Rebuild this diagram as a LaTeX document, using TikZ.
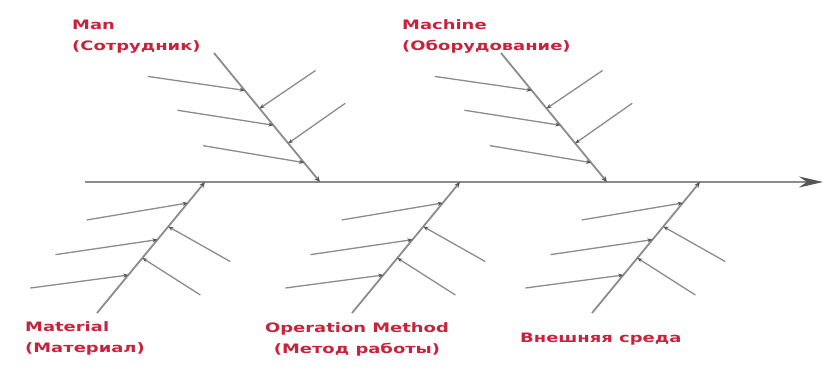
\documentclass[tikz,border=0pt]{standalone}
\usepackage{fontspec}
\newfontfamily\lblfont[FakeStretch=1.38]{DejaVu Sans}
\usetikzlibrary{arrows.meta,calc}
\definecolor{bonegray}{RGB}{140,140,140}
\definecolor{tipgray}{RGB}{85,85,85}
\definecolor{lblred}{RGB}{200,35,60}
\tikzset{
  spine/.style={draw=bonegray, line width=2.2pt, -{Stealth[length=24pt,width=11pt,color=tipgray]}},
  bone/.style={draw=bonegray, line width=1.8pt, -{Stealth[length=6pt,width=5pt,color=tipgray]}},
  twig/.style={draw=bonegray, line width=1.3pt, -{Stealth[length=5pt,width=4pt,color=tipgray]}},
  lbl/.style={text=lblred, font=\lblfont\bfseries\fontsize{13}{21}\selectfont, inner sep=0pt},
}
\begin{document}
\begin{tikzpicture}[x=1pt,y=-1pt]
    \useasboundingbox[fill=white] (0,0) rectangle (827,368);
    % main line
    \coordinate (spine-tail) at (85,182);
    \coordinate (spine-head) at (823,182);
    \draw[spine] (spine-tail) -- (spine-head);
    % upper bones
    \foreach \dx/\nm in {0/man,287/mach}{
    \begin{scope}[shift={(\dx,0)}]
        \coordinate (\nm-tail) at (214,53);
        \coordinate (\nm-head) at (320,182);
        \draw[bone] (\nm-tail) -- (\nm-head);
        \foreach \t/\ox/\oy [count=\i] in {.29/-97/-14,.56/-96/-15,.85/-101/-17}{
            \coordinate (\nm-l\i) at ($(\nm-tail)!\t!(\nm-head)$);
            \draw[twig] ($(\nm-l\i)+(\ox,\oy)$) -- (\nm-l\i);
        }
        \foreach \t/\ox/\oy [count=\i] in {.43/56/-38,.70/57/-40}{
            \coordinate (\nm-r\i) at ($(\nm-tail)!\t!(\nm-head)$);
            \draw[twig] ($(\nm-r\i)+(\ox,\oy)$) -- (\nm-r\i);
        }
    \end{scope}
    }
    % lower bones
    \foreach \dx/\nm in {0/mat,255/oper,495/env}{
    \begin{scope}[shift={(\dx,0)}]
        \coordinate (\nm-tail) at (97,313);
        \coordinate (\nm-head) at (205,182);
        \draw[bone] (\nm-tail) -- (\nm-head);
        \foreach \t/\ox/\oy [count=\i] in {.84/-101/17,.56/-102/15,.29/-98/13}{
            \coordinate (\nm-l\i) at ($(\nm-tail)!\t!(\nm-head)$);
            \draw[twig] ($(\nm-l\i)+(\ox,\oy)$) -- (\nm-l\i);
        }
        \foreach \t/\ox/\oy [count=\i] in {.66/62/35,.42/58/37}{
            \coordinate (\nm-r\i) at ($(\nm-tail)!\t!(\nm-head)$);
            \draw[twig] ($(\nm-r\i)+(\ox,\oy)$) -- (\nm-r\i);
        }
    \end{scope}
    }
    % labels (base = last line)
    \node[lbl, anchor=base west, align=left] (man) at (72,50) {Man\\(Сотрудник)};
    \node[lbl, anchor=base west, align=left] (mach) at (402,50) {Machine\\ (Оборудование)};
    \node[lbl, anchor=base west, align=left] (mat) at (25,352) {Material\\(Материал)};
    \node[lbl, anchor=base, align=center] (oper) at (357,353) {Operation Method\\(Метод работы)};
    \node[lbl, anchor=base west] (env) at (520,342) {Внешняя среда};
\end{tikzpicture}
\end{document}
